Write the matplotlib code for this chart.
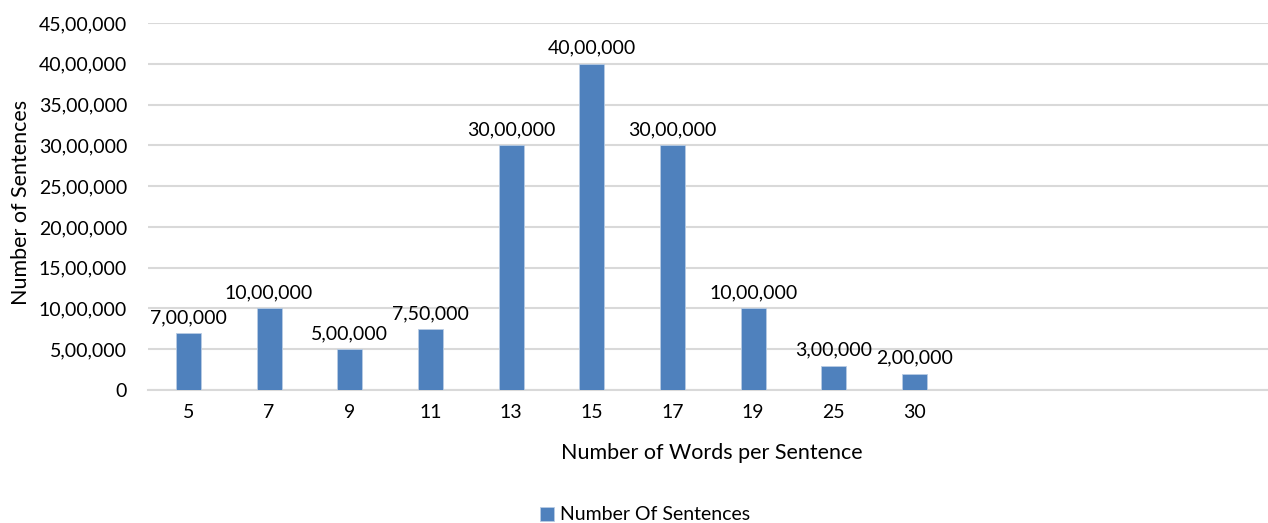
import matplotlib.pyplot as plt
from matplotlib.ticker import FuncFormatter

plt.rcParams['font.family'] = ['Lato', 'DejaVu Sans']

categories = ['5', '7', '9', '11', '13', '15', '17', '19', '25', '30']
sentences = [700000, 1000000, 500000, 750000, 3000000, 4000000, 3000000, 1000000, 300000, 200000]
yticks = [0, 500000, 1000000, 1500000, 2000000, 2500000, 3000000, 3500000, 4000000, 4500000]


def indian(v, pos=None):
    v = int(round(v))
    if v == 0:
        return '0'
    s = str(v)
    last3 = s[-3:]
    rest = s[:-3]
    parts = []
    while len(rest) > 2:
        parts.insert(0, rest[-2:])
        rest = rest[:-2]
    if rest:
        parts.insert(0, rest)
    return ','.join(parts + [last3])


fig = plt.figure(figsize=(12.68, 5.23), dpi=100)
ax = fig.add_axes([148 / 1268, 1 - 390 / 523, 1 - 148 / 1268, (390 - 23) / 523])

x = list(range(len(categories)))
bars = ax.bar(x, sentences, width=0.31, color='#4F81BD', edgecolor='#B8CCE4',
              linewidth=0.6, label='Number Of Sentences', zorder=3)
for xi, v in zip(x, sentences):
    ax.annotate(indian(v), (xi, v), xytext=(0, 5), textcoords='offset points',
                ha='center', va='bottom', fontsize=14, color='#000000')

ax.set_xlim(-0.5, 13.38)
ax.set_ylim(0, 4500000)
ax.set_yticks(yticks)
ax.yaxis.set_major_formatter(FuncFormatter(indian))
ax.set_xticks(x)
ax.set_xticklabels(categories)
ax.grid(axis='y', color='#D9D9D9', linewidth=1.5, zorder=0)
ax.set_axisbelow(True)
for s in ['top', 'right', 'left']:
    ax.spines[s].set_visible(False)
ax.spines['bottom'].set_color('#D9D9D9')
ax.spines['bottom'].set_linewidth(1.5)
ax.tick_params(length=0, labelsize=14, colors='#000000')
ax.tick_params(axis='x', pad=10)
ax.tick_params(axis='y', pad=15)

ax.set_xlabel('Number of Words per Sentence', fontsize=15.5)
ax.set_ylabel('Number of Sentences', fontsize=15.5)
ax.xaxis.set_label_coords((712 - 148) / 1120, -(443 - 390) / 367)
ax.yaxis.set_label_coords(-(148 - 31) / 1120, (390 - 202) / 367)

fig.legend(loc='center', bbox_to_anchor=(645 / 1268, 1 - 515 / 523), frameon=False,
           fontsize=14, handlelength=0.7, handleheight=0.7, handletextpad=0.3)

fig.savefig('out.png', dpi=100)
